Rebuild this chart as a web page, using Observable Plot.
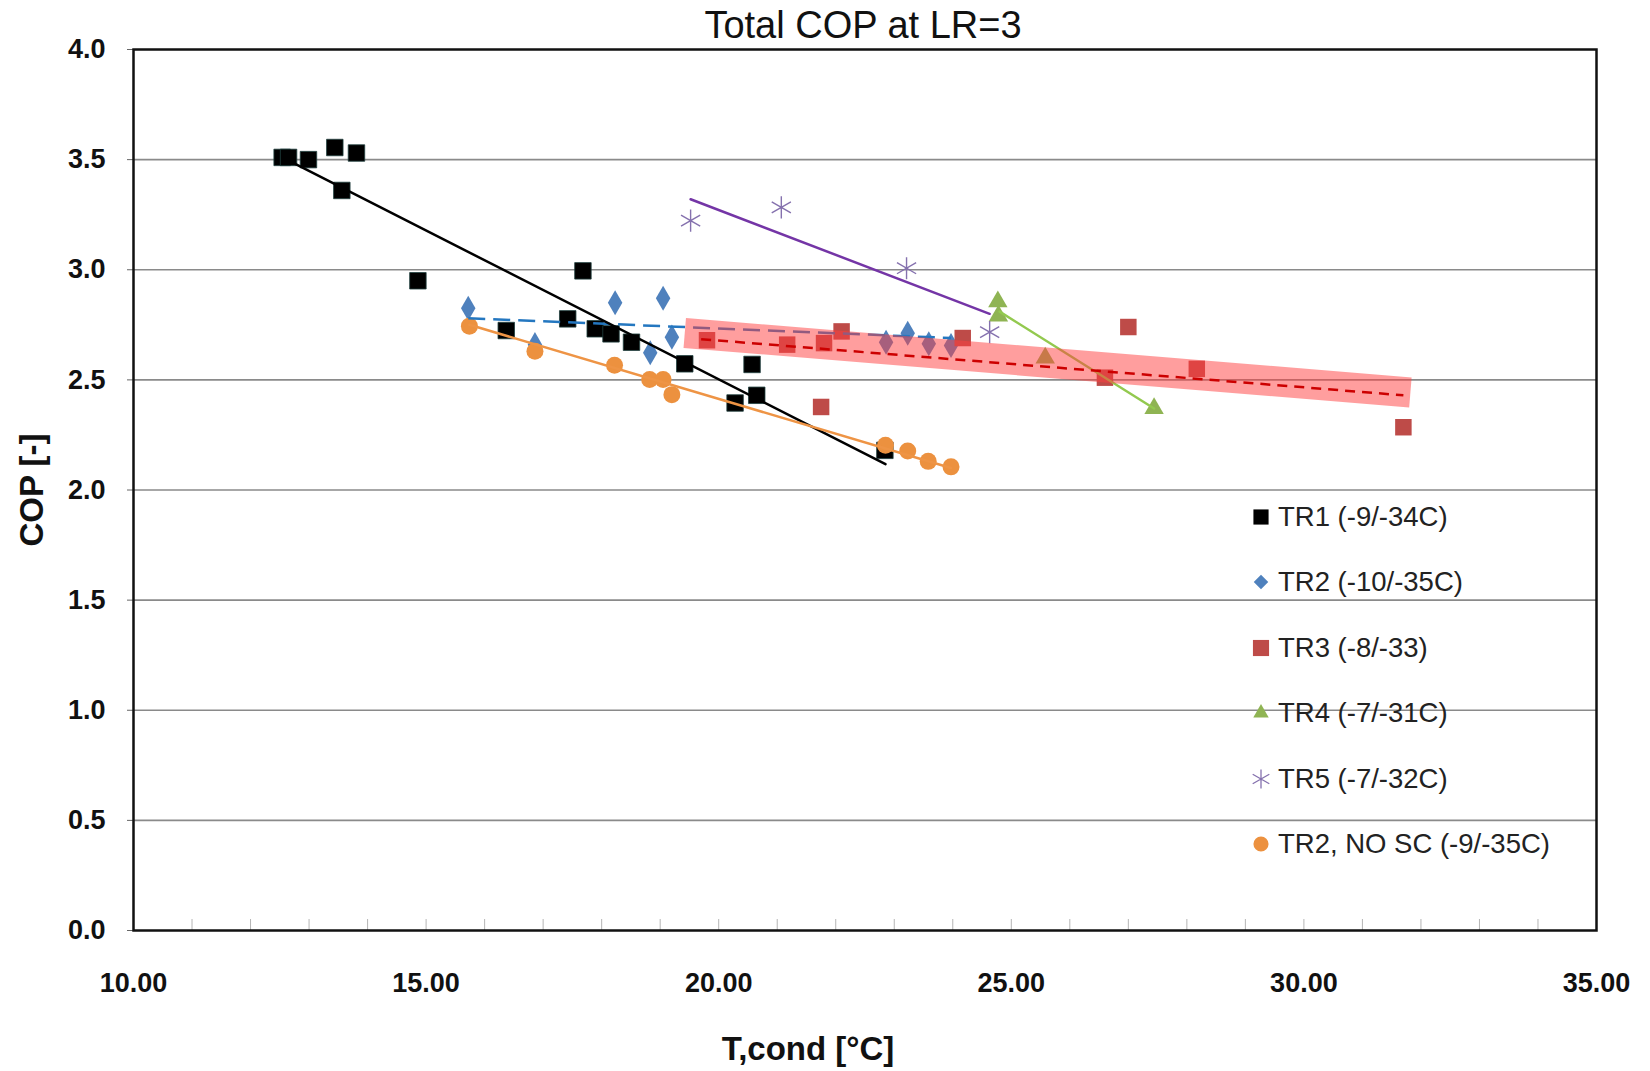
<!DOCTYPE html>
<html><head><meta charset="utf-8">
<script src="https://cdn.jsdelivr.net/npm/d3@7"></script>
<script src="https://cdn.jsdelivr.net/npm/@observablehq/plot@0.6"></script>
<style>
body{margin:0;background:#fff;font-family:'Liberation Sans',Arial,sans-serif;}
#wrap{position:relative;width:1650px;height:1071px;overflow:hidden;background:#fff;}
#title{position:absolute;left:863px;top:4px;transform:translateX(-50%);font-size:38px;line-height:42px;white-space:nowrap;color:#111;z-index:2;}
#chart{position:absolute;left:0;top:0;z-index:1;}
#chart svg{background:transparent !important;}
.lg{position:absolute;left:1248px;height:30px;display:flex;align-items:center;font-size:27.5px;color:#222;white-space:nowrap;z-index:3;}
.lg svg{width:26px;height:26px;margin-right:4px;}
</style></head><body>
<div id="wrap"><div id="chart"></div><div id="title">Total COP at LR=3</div><div id="legend"></div></div>
<script>
// ---- data ----
const tr1X = [12.54, 12.65, 12.99, 13.44, 13.81, 13.56, 14.86, 16.37, 17.42, 17.68, 17.89, 18.16, 18.51, 19.42, 20.28, 20.57, 20.65, 22.84];
const tr1Y = [3.51, 3.51, 3.50, 3.555, 3.53, 3.36, 2.95, 2.724, 2.777, 2.995, 2.732, 2.709, 2.671, 2.573, 2.395, 2.57, 2.43, 2.18];
const tr2X = [15.72, 16.86, 18.23, 18.83, 19.05, 19.20, 22.86, 23.23, 23.59, 23.97];
const tr2Y = [2.825, 2.66, 2.85, 2.623, 2.871, 2.694, 2.671, 2.712, 2.664, 2.656];
const tr3X = [19.80, 21.17, 21.75, 21.80, 22.10, 24.17, 26.60, 27.00, 28.17, 31.70];
const tr3Y = [2.68, 2.66, 2.377, 2.667, 2.72, 2.69, 2.51, 2.74, 2.55, 2.285];
const tr4X = [24.77, 24.78, 25.58, 27.44];
const tr4Y = [2.855, 2.79, 2.60, 2.37];
const tr5X = [19.52, 21.07, 23.21, 24.63];
const tr5Y = [3.223, 3.283, 3.007, 2.717];
const noScX = [15.74, 16.86, 18.22, 18.82, 19.05, 19.20, 22.85, 23.23, 23.58, 23.97];
const noScY = [2.744, 2.63, 2.566, 2.502, 2.502, 2.433, 2.203, 2.177, 2.13, 2.105];

// trend lines (end points as drawn)
const tr1FitX = [12.62, 22.85], tr1FitY = [3.50, 2.117];
const tr2FitX = [15.72, 23.97], tr2FitY = [2.78, 2.69];
const tr3FitX = [19.70, 31.70], tr3FitY = [2.685, 2.43];
const tr4FitX = [24.80, 27.44], tr4FitY = [2.81, 2.37];
const tr5FitX = [19.52, 24.63], tr5FitY = [3.32, 2.80];
const noScFitX = [15.74, 23.97], noScFitY = [2.75, 2.10];
const bandX = [19.42, 31.82], bandY = [2.713, 2.443];

const xTicks = [10, 15, 20, 25, 30, 35];
const xMinorTicks = [10,11,12,13,14,15,16,17,18,19,20,21,22,23,24,25,26,27,28,29,30,31,32,33,34,35];
const yTicks = [0, 0.5, 1, 1.5, 2, 2.5, 3, 3.5, 4];
const yGrid = [0.5, 1, 1.5, 2, 2.5, 3, 3.5];

const seriesNames = ["TR1 (-9/-34C)", "TR2 (-10/-35C)", "TR3 (-8/-33)", "TR4 (-7/-31C)", "TR5 (-7/-32C)", "TR2, NO SC (-9/-35C)"];

// ---- build ----
const pts = (xs, ys) => xs.map((x, i) => ({x, y: ys[i]}));
const font = "'Liberation Sans', Arial, sans-serif";
const FH = 881; // frame height in px

const chart = Plot.plot({
  width: 1650, height: 1071,
  marginTop: 49, marginBottom: 141, marginLeft: 133, marginRight: 54,
  x: {domain: [10, 35]},
  y: {domain: [0, 4]},
  style: {fontFamily: font, background: "transparent", color: "#111"},
  marks: [
    Plot.gridY(yGrid, {stroke: "#8a8a8a", strokeOpacity: 1, strokeWidth: 1.6}),
    Plot.tickX(xMinorTicks, {x: d => d, insetTop: FH - 11, stroke: "#b5b5b5", strokeWidth: 1}),
    Plot.axisY(yTicks, {tickFormat: d3.format(".1f"), tickSize: 6, tickPadding: 22, fontSize: 27, fontWeight: "bold", label: null, stroke: "#666"}),
    Plot.axisX(xTicks, {tickFormat: d3.format(".2f"), tickSize: 0, tickPadding: 42, fontSize: 27, fontWeight: "bold", label: null}),
    Plot.text(["COP [-]"], {frameAnchor: "left", dx: -101, rotate: -90, fontSize: 33, fontWeight: "bold", textAnchor: "middle", lineAnchor: "middle"}),
    Plot.text(["T,cond [°C]"], {frameAnchor: "bottom", dx: -57, dy: 119, fontSize: 33, fontWeight: "bold", textAnchor: "middle", lineAnchor: "middle"}),
    Plot.frame({stroke: "#111", strokeWidth: 2.5}),
    // markers
    Plot.dot(pts(tr1X, tr1Y), {x: "x", y: "y", symbol: "square", r: 9.3, fill: "#000", stroke: "#21403f", strokeWidth: 0.8}),
    Plot.dot(pts(tr2X, tr2Y), {x: "x", y: "y", symbol: "diamond", r: 7.6, fill: "#4F81BD"}),
    Plot.dot(pts(tr3X, tr3Y), {x: "x", y: "y", symbol: "square", r: 9.3, fill: "#BE4B48"}),
    Plot.dot(pts(tr4X, tr4Y), {x: "x", y: "y", symbol: "triangle", r: 7.2, fill: "#8FB453"}),
    Plot.dot(pts(tr5X, tr5Y), {x: "x", y: "y", symbol: "asterisk", r: 10.5, stroke: "#8571AE", strokeWidth: 1.4}),
    Plot.dot(pts(noScX, noScY), {x: "x", y: "y", symbol: "circle", r: 8.5, fill: "#EC913F"}),
    // trend lines
    Plot.line(pts(tr2FitX, tr2FitY), {x: "x", y: "y", stroke: "#2477C0", strokeWidth: 2.5, strokeDasharray: "17,8", strokeLinecap: "butt"}),
    Plot.line(pts(tr1FitX, tr1FitY), {x: "x", y: "y", stroke: "#000", strokeWidth: 2.5}),
    Plot.line(pts(tr4FitX, tr4FitY), {x: "x", y: "y", stroke: "#93C94F", strokeWidth: 2.5}),
    Plot.line(pts(tr5FitX, tr5FitY), {x: "x", y: "y", stroke: "#7435A6", strokeWidth: 2.5}),
    Plot.line(pts(noScFitX, noScFitY), {x: "x", y: "y", stroke: "#EE9445", strokeWidth: 2.5}),
    Plot.line(pts(bandX, bandY), {x: "x", y: "y", stroke: "#ff3d3d", strokeOpacity: 0.5, strokeWidth: 30, strokeLinecap: "butt"}),
    Plot.line(pts(tr3FitX, tr3FitY), {x: "x", y: "y", stroke: "#cc0000", strokeWidth: 2.5, strokeDasharray: "10,7", strokeLinecap: "butt"})
  ]
});
document.getElementById("chart").appendChild(chart);

// ---- legend ----
const legendSyms = [
  {type: d3.symbolSquare, size: 230, fill: "#000"},
  {type: d3.symbolDiamond2, size: 135, fill: "#4F81BD"},
  {type: d3.symbolSquare, size: 260, fill: "#BE4B48"},
  {type: d3.symbolTriangle2, size: 170, fill: "#8FB453"},
  {type: d3.symbolAsterisk, size: 260, stroke: "#8571AE"},
  {type: d3.symbolCircle, size: 180, fill: "#EC913F"}
];
const legendTops = [517, 582, 648, 713, 779, 844];
const lg = document.getElementById("legend");
seriesNames.forEach((name, i) => {
  const s = legendSyms[i];
  const row = document.createElement("div");
  row.className = "lg";
  row.style.top = (legendTops[i] - 15) + "px";
  const path = d3.symbol(s.type, s.size)();
  row.innerHTML = `<svg viewBox="-13 -13 26 26"><path d="${path}" fill="${s.fill || "none"}" stroke="${s.stroke || "none"}" stroke-width="1.3"/></svg><span>${name}</span>`;
  lg.appendChild(row);
});
</script>
</body></html>
